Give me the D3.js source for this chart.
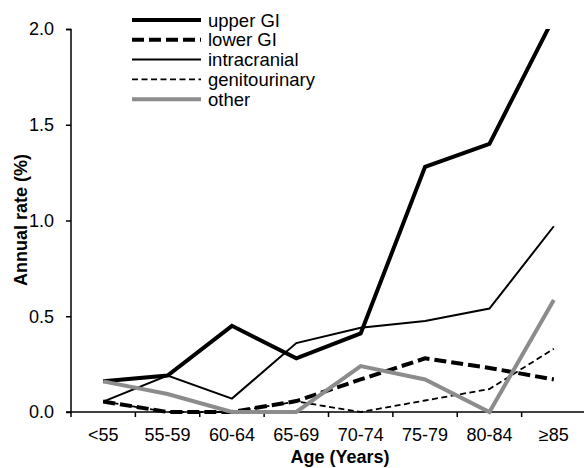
<!DOCTYPE html>
<html><head><meta charset="utf-8">
<script src="https://cdn.jsdelivr.net/npm/d3@7"></script>
<style>body{margin:0;background:#fff}svg{display:block}text{font-family:"Liberation Sans",Arial,sans-serif}</style>
</head><body><svg id="c" width="584" height="468"></svg>
<script>
const categories = ["<55","55-59","60-64","65-69","70-74","75-79","80-84","≥85"];
const upperGI = [0.16,0.19,0.45,0.28,0.41,1.28,1.40,2.06];
const lowerGI = [0.055,0.0,0.0,0.057,0.17,0.28,0.23,0.17];
const intracranial = [0.054,0.19,0.07,0.36,0.44,0.475,0.54,0.97];
const genitourinary = [0.055,0.0,0.0,0.055,0.0,0.06,0.12,0.33];
const other = [0.16,0.094,0.0,0.0,0.24,0.17,0.0,0.585];
const yTicks = [0,0.5,1.0,1.5,2.0];
const seriesNames = ["upper GI","lower GI","intracranial","genitourinary","other"];

const styles = {
  "upper GI": {c:"#000", w:4, d:null},
  "lower GI": {c:"#000", w:4, d:"12,5"},
  "intracranial": {c:"#000", w:2, d:null},
  "genitourinary": {c:"#000", w:1.8, d:"6,3.5"},
  "other": {c:"#8c8c8c", w:4, d:null}
};
const seriesData = {"upper GI":upperGI,"lower GI":lowerGI,"intracranial":intracranial,"genitourinary":genitourinary,"other":other};

const svg = d3.select("#c");
const x = d3.scaleBand().domain(categories).range([71,586]).padding(0);
const y = d3.scaleLinear().domain([0,2]).range([412,29]);

svg.append("defs").append("clipPath").attr("id","clip")
  .append("rect").attr("x",71).attr("y",29).attr("width",520).attr("height",400);

const FS = 18;
// axes
const yAxis = d3.axisLeft(y).tickValues(yTicks).tickFormat(d3.format(".1f")).tickSize(5).tickPadding(12);
const gy = svg.append("g").attr("transform","translate(71,0)").call(yAxis);
gy.select(".domain").attr("stroke","#000").attr("stroke-width",1.5).attr("d","M-5,29.5H0V412");
gy.selectAll(".tick line").attr("stroke","#000").attr("stroke-width",1.5);
gy.selectAll(".tick text").attr("font-size",FS).attr("fill","#000").attr("font-family","Liberation Sans, Arial, sans-serif");

const xAxis = d3.axisBottom(x).tickSize(0).tickPadding(16);
const gx = svg.append("g").attr("transform","translate(0,412)").call(xAxis);
gx.select(".domain").attr("stroke","#000").attr("stroke-width",1.5).attr("d","M66,0H586");
gx.selectAll(".tick text").attr("font-size",FS).attr("fill","#000").attr("font-family","Liberation Sans, Arial, sans-serif");
// boundary tick marks
const bounds = categories.map(c=>x(c)).concat([x(categories[categories.length-1])+x.bandwidth()]);
gx.selectAll("line.bt").data(bounds).enter().append("line").attr("class","bt")
  .attr("x1",d=>d).attr("x2",d=>d).attr("y1",0).attr("y2",5).attr("stroke","#000").attr("stroke-width",1.5);

// lines
const line = d3.line().x((d,i)=>x(categories[i])+x.bandwidth()/2).y(d=>y(d));
const order = ["genitourinary","lower GI","intracranial","upper GI","other"];
const gl = svg.append("g").attr("clip-path","url(#clip)");
order.forEach(n=>{
  const s = styles[n];
  gl.append("path").datum(seriesData[n]).attr("d",line).attr("fill","none")
    .attr("stroke",s.c).attr("stroke-width",s.w).attr("stroke-dasharray",s.d)
    .attr("stroke-linejoin","miter");
});

// legend
const lg = svg.append("g");
seriesNames.forEach((n,i)=>{
  const s = styles[n];
  const yy = 20 + i*19.8;
  lg.append("line").attr("x1",132).attr("x2",201).attr("y1",yy).attr("y2",yy)
    .attr("stroke",s.c).attr("stroke-width",s.w).attr("stroke-dasharray",s.d);
  lg.append("text").attr("x",208).attr("y",yy+6.5).attr("font-size",18.5).text(n);
});

// titles
svg.append("text").attr("x",340).attr("y",463).attr("text-anchor","middle")
  .attr("font-size",18).attr("font-weight","bold").text("Age (Years)");
svg.append("text").attr("transform","translate(26.5,220) rotate(-90)").attr("text-anchor","middle")
  .attr("font-size",18).attr("font-weight","bold").text("Annual rate (%)");
</script></body></html>
